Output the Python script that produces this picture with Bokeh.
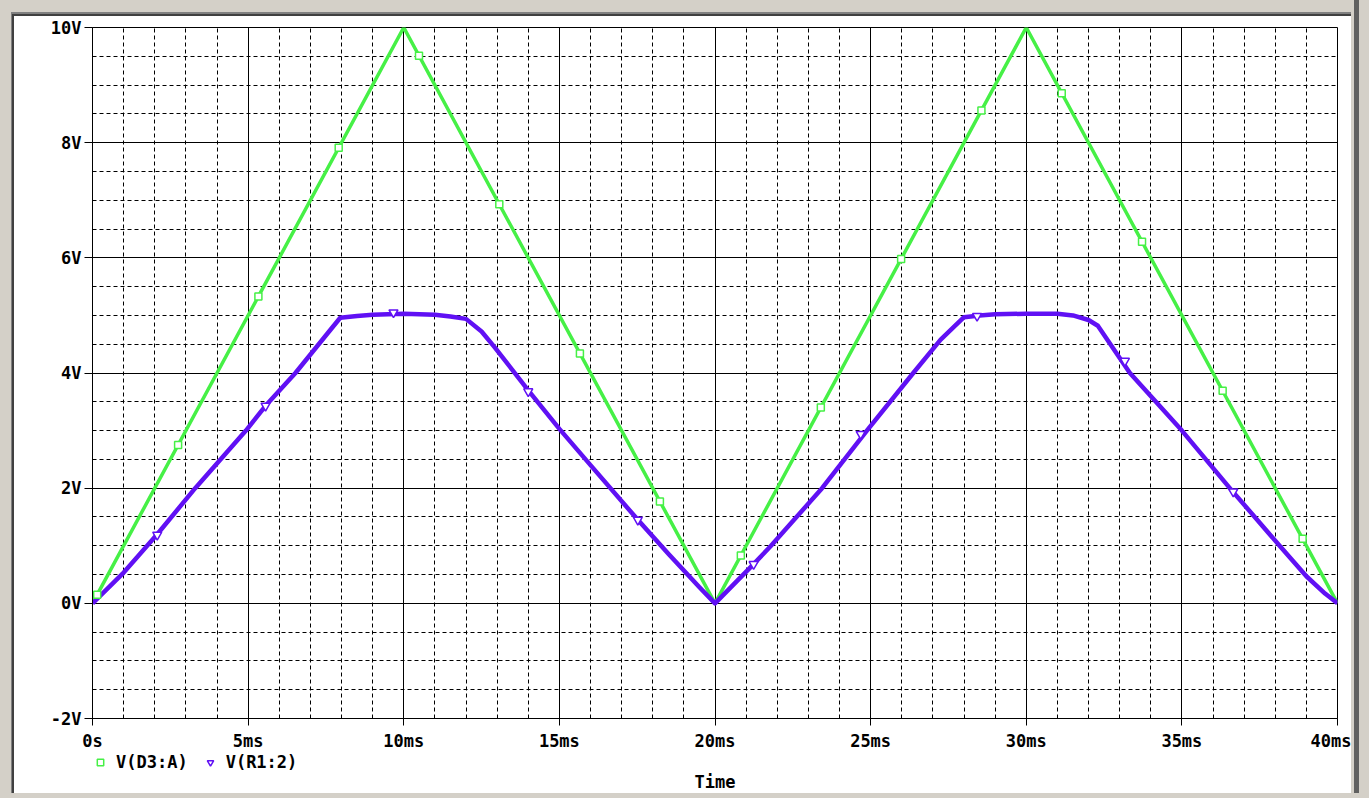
from bokeh.plotting import figure
from bokeh.layouts import column
from bokeh.models import Range1d, FixedTicker, Legend, LegendItem, Label
from bokeh.embed import file_html
from bokeh.resources import INLINE

# ---- data (time in ms, voltage in V) ----
t_green = [0, 10, 20, 30, 40]
v_green = [0, 10, 0, 10, 0]

t_purple = [0, 0.96, 2.08, 3.30, 4.93, 5.56, 6.52, 7.6, 7.96, 8.5, 9.0, 10.0, 11.0, 11.5, 12.0,
            12.5, 12.93, 14.0, 15.0, 16.0, 17.52, 18.5, 19.5, 20.0,
            21.24, 21.8, 23.44, 24.88, 26.37, 27.25, 28.0, 28.5, 29.0, 30.0, 31.0, 31.5, 32.0,
            32.3, 33.33, 35.0, 36.54, 38.14, 39.0, 39.6, 40.0]
v_purple = [0, 0.51, 1.2, 2.0, 3.0, 3.43, 4.0, 4.72, 4.96, 4.99, 5.01, 5.03, 5.01, 4.98, 4.94,
            4.72, 4.44, 3.70, 3.03, 2.40, 1.45, 0.86, 0.28, 0.0,
            0.68, 1.0, 2.0, 3.0, 4.0, 4.58, 4.97, 5.0, 5.02, 5.03, 5.03, 5.0, 4.92,
            4.82, 4.0, 3.0, 2.0, 1.0, 0.47, 0.17, 0.0]

green_marker_t = [0.15, 2.75, 5.33, 7.91, 10.49, 13.07, 15.66, 18.23, 20.83, 23.40,
                  25.98, 28.56, 31.14, 33.72, 36.31, 38.88]
green_marker_v = [0.15, 2.75, 5.33, 7.91, 9.51, 6.93, 4.34, 1.77, 0.83, 3.40,
                  5.98, 8.56, 8.86, 6.28, 3.69, 1.12]

purple_marker_t = [2.08, 5.56, 9.67, 14.0, 17.52, 21.24, 24.68, 28.42, 33.17, 36.65]
purple_marker_v = [1.19, 3.43, 5.05, 3.68, 1.45, 0.68, 2.94, 4.99, 4.21, 1.94]

x_ticks = [0, 5, 10, 15, 20, 25, 30, 35, 40]
x_labels = ["0s", "5ms", "10ms", "15ms", "20ms", "25ms", "30ms", "35ms", "40ms"]
x_minor = list(range(0, 41))
y_ticks = [-2, 0, 2, 4, 6, 8, 10]
y_labels = ["-2V", "0V", "2V", "4V", "6V", "8V", "10V"]
y_minor = [i * 0.5 for i in range(-4, 21)]

series_names = ["V(D3:A)", "V(R1:2)"]
axis_title = "Time"

GREEN = "#46f046"
PURPLE = "#6010f4"
FONT = "DejaVu Sans Mono"

# ---------------- main plot ----------------
p = figure(frame_width=1245, frame_height=691,
           x_range=Range1d(0, 40), y_range=Range1d(-2, 10),
           output_backend="svg", toolbar_location=None,
           min_border_left=92, min_border_right=14, min_border_top=27, min_border_bottom=32,
           background_fill_color="white", border_fill_alpha=0)

p.outline_line_color = "black"
p.outline_line_width = 1

p.xaxis.ticker = FixedTicker(ticks=x_ticks, minor_ticks=x_minor)
p.yaxis.ticker = FixedTicker(ticks=y_ticks, minor_ticks=y_minor)
p.xaxis.major_label_overrides = {k: v for k, v in zip(x_ticks, x_labels)}
p.yaxis.major_label_overrides = {k: v for k, v in zip(y_ticks, y_labels)}
for ax in (p.xaxis, p.yaxis):
    ax.axis_line_color = "black"
    ax.axis_line_width = 1
    ax.major_tick_line_color = "black"
    ax.major_tick_in = 0
    ax.minor_tick_line_color = None
    ax.major_label_text_font = FONT
    ax.major_label_text_font_style = "bold"
    ax.major_label_text_font_size = "17px"
    ax.major_label_text_color = "black"
p.yaxis.major_tick_out = 8
p.yaxis.major_label_standoff = 3
p.xaxis.major_tick_out = 7
p.xaxis.major_label_standoff = 5

for g in (p.xgrid, p.ygrid):
    g.grid_line_color = "black"
    g.grid_line_width = 1
    g.grid_line_alpha = 1.0
    g.minor_grid_line_color = "black"
    g.minor_grid_line_width = 1
    g.minor_grid_line_dash = "4 3"

p.line(t_green, v_green, line_color=GREEN, line_width=3.5, line_join="round")
p.line(t_purple, v_purple, line_color=PURPLE, line_width=4.5, line_join="round")
p.scatter(green_marker_t, green_marker_v, marker="square", size=7,
          fill_color="white", line_color=GREEN, line_width=1.5)
p.scatter(purple_marker_t, purple_marker_v, marker="inverted_triangle", size=9,
          fill_color="white", line_color=PURPLE, line_width=1.5)

# ---------------- legend + axis title strip (shares the time axis range) ----------------
H2 = 40
p2 = figure(frame_width=1245, height=H2, x_range=p.x_range, y_range=Range1d(-100, -99),
            output_backend="svg", toolbar_location=None,
            min_border_left=92, min_border_right=14, min_border_top=0, min_border_bottom=0,
            x_axis_location=None, y_axis_location=None,
            background_fill_alpha=0, border_fill_alpha=0)
p2.grid.visible = False
p2.outline_line_color = None

# legend keys (their points fall outside this strip's y range, only the keys show)
lg = p2.scatter(green_marker_t, green_marker_v, marker="square", size=7,
                fill_color="white", line_color=GREEN, line_width=1.5)
lp = p2.scatter(purple_marker_t, purple_marker_v, marker="inverted_triangle", size=9,
                fill_color="white", line_color=PURPLE, line_width=1.5)
legend = Legend(items=[LegendItem(label=series_names[0], renderers=[lg]),
                       LegendItem(label=series_names[1], renderers=[lp])],
                orientation="horizontal", location=(0, 21),
                padding=0, margin=0, spacing=14, glyph_width=16, glyph_height=18,
                label_height=18, label_standoff=8, border_line_color=None,
                background_fill_alpha=0,
                label_text_font=FONT, label_text_font_style="bold",
                label_text_font_size="17px", label_text_color="black")
p2.add_layout(legend, "center")

p2.add_layout(Label(x=20, y=12, y_units="screen", text=axis_title, text_align="center",
                    text_baseline="middle", text_font=FONT, text_font_style="bold",
                    text_font_size="17px", text_color="black"))

layout = column(p, p2, spacing=0)
layout.styles = {
    "box-shadow": ("inset 11px 12px 0 0 #d4d0c8, inset 12px 14px 0 0 #808080, "
                   "inset 14px 16px 0 0 #404040, "
                   "3px 0 0 0 #d4d0c8, 8px 0 0 0 #606060, 0 0 0 60px #d4d0c8"),
    "background": "white",
}

open("out.html", "w").write(file_html(layout, INLINE))
